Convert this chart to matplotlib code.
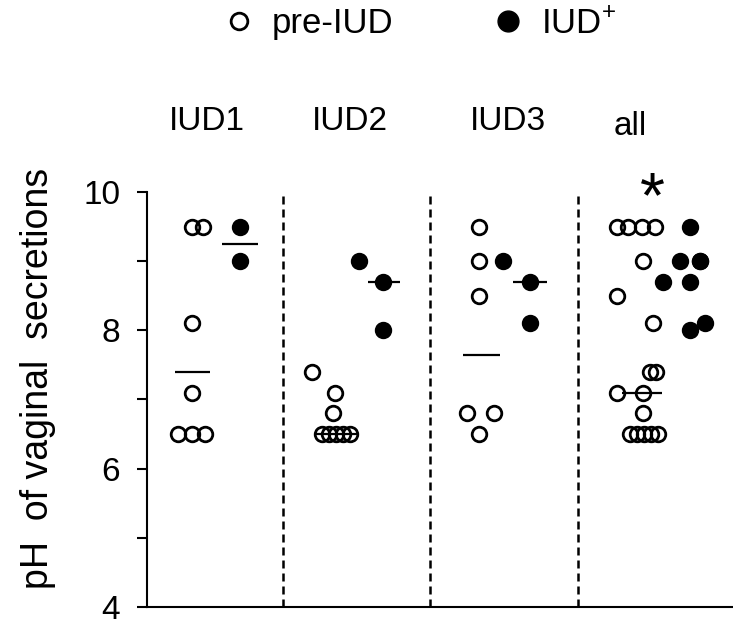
import matplotlib
matplotlib.use("Agg")
import matplotlib.pyplot as plt
from matplotlib.lines import Line2D

plt.rcParams["font.family"] = ["Liberation Sans", "DejaVu Sans"]
plt.rcParams["mathtext.fontset"] = "custom"
plt.rcParams["mathtext.rm"] = "Liberation Sans"

panels = ["IUD1", "IUD2", "IUD3", "all"]
panel_x = [60, 203, 361, 483]
dividers = [136, 283, 431]

pre_vals = [
    [9.5, 9.5, 8.1, 7.1, 6.5, 6.5, 6.5],
    [7.4, 7.1, 6.8, 6.5, 6.5, 6.5, 6.5, 6.5],
    [9.5, 9.0, 8.5, 6.8, 6.8, 6.5],
    [9.5, 9.5, 9.5, 9.5, 9.0, 8.5, 8.1, 7.4, 7.4, 7.1, 7.1, 6.8,
     6.5, 6.5, 6.5, 6.5, 6.5],
]
pre_x = [
    [45, 56, 45, 45, 31, 45, 58],
    [165, 188, 186, 175, 182, 189, 196, 203],
    [332, 332, 332, 320, 347, 332],
    [470, 481, 495, 508, 496, 470, 506, 503, 509, 470, 496, 496,
     483, 490, 497, 504, 511],
]
post_vals = [
    [9.5, 9.0],
    [9.0, 8.7, 8.0],
    [9.0, 8.7, 8.1],
    [9.5, 9.0, 9.0, 9.0, 8.7, 8.7, 8.1, 8.0],
]
post_x = [
    [93, 93],
    [212, 236, 236],
    [356, 383, 383],
    [543, 533, 553, 553, 516, 543, 558, 543],
]
pre_med = [7.4, 6.5, 7.65, 7.1]
pre_med_span = [(28, 63), (168, 210), (316, 353), (475, 515)]
post_med = [9.25, 8.7, 8.7]
post_med_span = [(75, 111), (221, 253), (366, 400)]

fig = plt.figure(figsize=(7.33, 6.28), dpi=100)
ax = fig.add_axes([0.2, 0.0334, 0.8, 0.661])

for xs, ys in zip(pre_x, pre_vals):
    ax.plot(xs, ys, "o", ls="none", ms=10.5, mfc="none", mec="black", mew=2.0)
for xs, ys in zip(post_x, post_vals):
    ax.plot(xs, ys, "o", ls="none", ms=10.5, mfc="black", mec="black", mew=2.0)
for y, (x0, x1) in zip(pre_med + post_med, pre_med_span + post_med_span):
    ax.hlines(y, x0, x1, color="black", lw=1.6)

for xd in dividers:
    ax.axvline(xd, color="black", lw=1.8, dashes=(3.2, 2.0))

for name, xp in zip(panels, panel_x):
    yb = 10.82 if name == "all" else 10.9
    ax.text(xp, yb, name, ha="center", va="baseline", fontsize=24, clip_on=False)
ax.text(505, 9.64, "*", ha="center", va="baseline", fontsize=46, clip_on=False)

ax.set_xlim(0, 586)
ax.set_ylim(4, 10)
ax.set_yticks([4, 6, 8, 10])
ax.set_yticks([5, 7, 9], minor=True)
ax.set_xticks([])
ax.tick_params(axis="y", which="both", length=7, width=1.5, labelsize=24, pad=12)
for s in ["top", "right"]:
    ax.spines[s].set_visible(False)
for s in ["left", "bottom"]:
    ax.spines[s].set_linewidth(1.5)
ax.set_ylabel("pH  of vaginal  secretions", fontsize=27)
ax.yaxis.set_label_coords(-0.154, 0.55)

handles = [
    Line2D([], [], marker="o", ls="none", ms=12, mfc="none", mec="black", mew=2.0),
    Line2D([], [], marker="o", ls="none", ms=15, mfc="black", mec="black"),
]
fig.legend(handles, ["pre-IUD", r"IUD$^\mathregular{+}$"], ncol=2, frameon=False,
           loc="center", bbox_to_anchor=(0.576, 0.963), fontsize=25,
           handlelength=0.6, handletextpad=0.65, columnspacing=3.0)

fig.savefig("out.png", dpi=100)
